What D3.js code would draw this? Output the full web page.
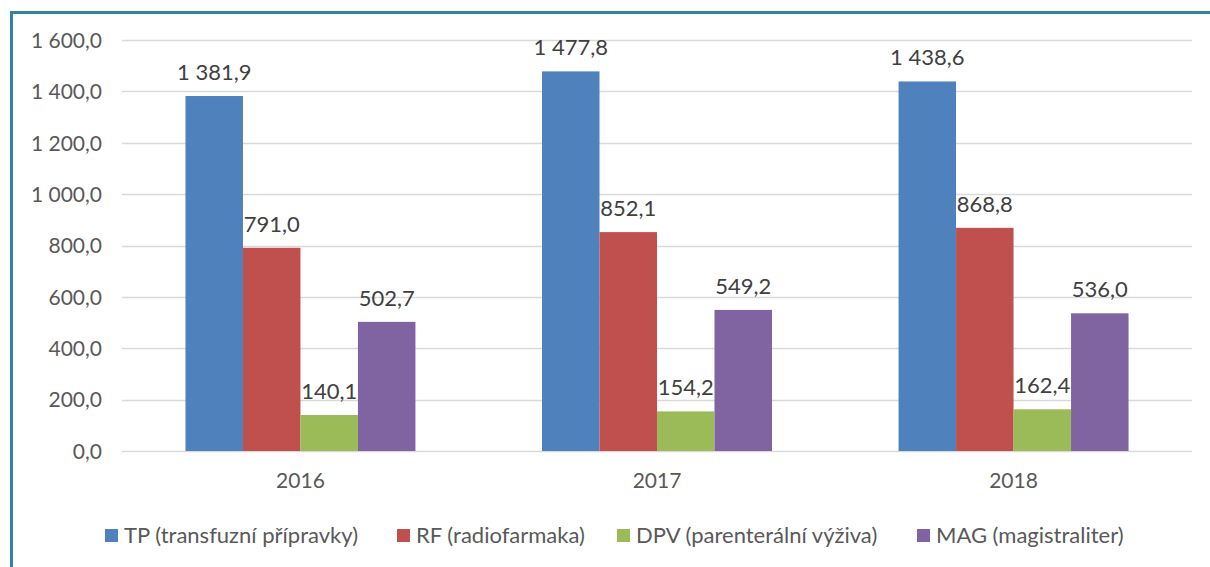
<!DOCTYPE html>
<html lang="cs">
<head>
<meta charset="UTF-8">
<title>Přípravky 2016–2018</title>
<script src="https://d3js.org/d3.v7.min.js"></script>
<style>
    body { margin: 0; background: #fff; }
    svg { display: block; font-family: Lato, "Liberation Sans", sans-serif; }
    .axis { font-family: Lato, "Liberation Sans", sans-serif; }
    .axis .tick text { fill: #595959; font-size: 21px; }
    .grid line { stroke: #d9d9d9; stroke-width: 1.3px; }
    .val { fill: #404040; font-size: 22px; text-anchor: middle; }
    .legend text { fill: #595959; font-size: 22px; }
</style>
</head>
<body>
<script>
// data
const years = ["2016", "2017", "2018"];
const seriesNames = ["TP (transfuzní přípravky)", "RF (radiofarmaka)", "DPV (parenterální výživa)", "MAG (magistraliter)"];
const colors = ["#4f81bd", "#c0504d", "#9bbb59", "#8064a2"];
const tp = [1381.9, 1477.8, 1438.6];
const rf = [791.0, 852.1, 868.8];
const dpv = [140.1, 154.2, 162.4];
const mag = [502.7, 549.2, 536.0];
const yTicks = [0, 200, 400, 600, 800, 1000, 1200, 1400, 1600];

const series = [tp, rf, dpv, mag];
const width = 1210, height = 567;
const margin = {left: 122, right: 18, top: 40, bottom: 116};

const fmt = v => {
    const s = v.toFixed(1).replace(".", ",");
    const [i, d] = s.split(",");
    return i.replace(/\B(?=(\d{3})+(?!\d))/g, " ") + "," + d;
};

const svg = d3.select("body").append("svg")
    .attr("width", width)
    .attr("height", height);

// frame lines on top and left
svg.append("line").attr("x1", 10).attr("x2", width).attr("y1", 12.5).attr("y2", 12.5)
    .attr("stroke", "#31849b").attr("stroke-width", 3);
svg.append("line").attr("x1", 11.5).attr("x2", 11.5).attr("y1", 11).attr("y2", height)
    .attr("stroke", "#31849b").attr("stroke-width", 3);

const x0 = d3.scaleBand()
    .domain(years)
    .range([margin.left, width - margin.right])
    .paddingInner(0.355)
    .paddingOuter(0.178);

const x1 = d3.scaleBand()
    .domain(d3.range(series.length))
    .range([0, x0.bandwidth()]);

const y = d3.scaleLinear()
    .domain([0, 1600])
    .range([height - margin.bottom, margin.top]);

// gridlines
svg.append("g")
    .attr("class", "grid")
    .selectAll("line")
    .data(yTicks)
    .join("line")
    .attr("x1", margin.left)
    .attr("x2", width - margin.right)
    .attr("y1", d => Math.round(y(d)) + 0.5)
    .attr("y2", d => Math.round(y(d)) + 0.5);

const yAxis = svg.append("g")
    .attr("class", "axis")
    .attr("transform", `translate(${margin.left - 20},0)`)
    .call(d3.axisLeft(y).tickValues(yTicks).tickFormat(fmt).tickSize(0).tickPadding(0));
yAxis.attr("font-family", null).attr("font-size", null);
yAxis.select(".domain").remove();
yAxis.selectAll(".tick text").attr("dy", "0.35em");

const xAxis = svg.append("g")
    .attr("class", "axis")
    .attr("transform", `translate(0,${height - margin.bottom})`)
    .call(d3.axisBottom(x0).tickSize(0).tickPadding(22));
xAxis.attr("font-family", null).attr("font-size", null);
xAxis.select(".domain").remove();

const groups = svg.append("g")
    .selectAll("g")
    .data(years)
    .join("g")
    .attr("transform", d => `translate(${x0(d)},0)`);

groups.selectAll("rect")
    .data((d, i) => series.map((s, k) => ({k, v: s[i]})))
    .join("rect")
    .attr("x", d => x1(d.k))
    .attr("width", x1.bandwidth())
    .attr("y", d => y(d.v))
    .attr("height", d => y(0) - y(d.v))
    .attr("fill", d => colors[d.k]);

groups.selectAll("text.val")
    .data((d, i) => series.map((s, k) => ({k, v: s[i]})))
    .join("text")
    .attr("class", "val")
    .attr("x", d => x1(d.k) + x1.bandwidth() / 2)
    .attr("y", d => y(d.v) - 16)
    .text(d => fmt(d.v));

// legend
const legendX = [105, 397, 617, 917];
const legend = svg.append("g").attr("class", "legend")
    .selectAll("g")
    .data(seriesNames)
    .join("g")
    .attr("transform", (d, i) => `translate(${legendX[i]},535)`);
legend.append("rect")
    .attr("x", 0).attr("y", -6)
    .attr("width", 13).attr("height", 13)
    .attr("fill", (d, i) => colors[i]);
legend.append("text")
    .attr("x", 19)
    .attr("dy", "0.35em")
    .text(d => d);
</script>
</body>
</html>
